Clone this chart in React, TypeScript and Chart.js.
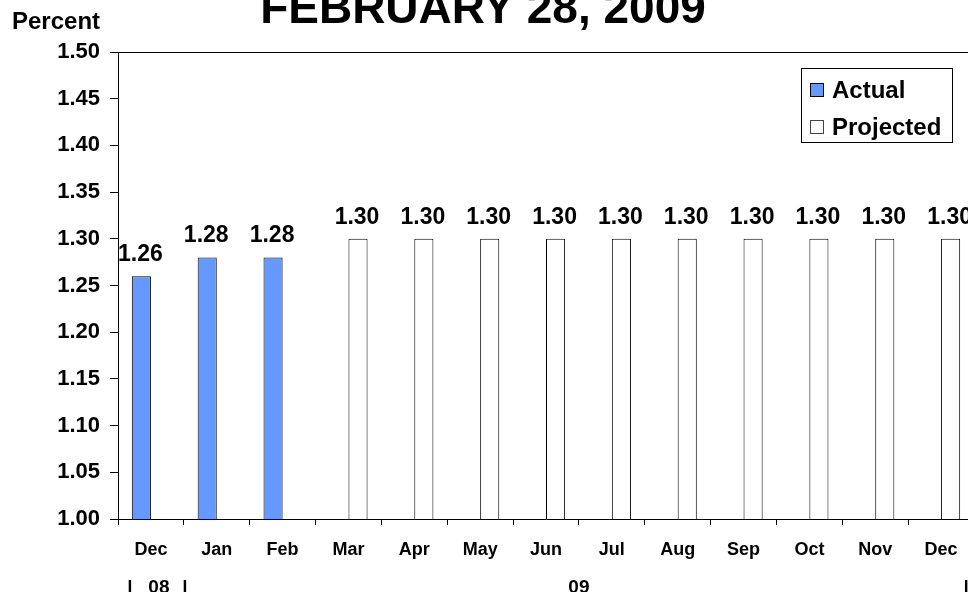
import React, { useEffect, useRef } from "react";
import { Chart, registerables } from "chart.js";

Chart.register(...registerables);

const categories = ["Dec", "Jan", "Feb", "Mar", "Apr", "May", "Jun", "Jul", "Aug", "Sep", "Oct", "Nov", "Dec"];
const actualValues = [1.26, 1.28, 1.28, null, null, null, null, null, null, null, null, null, null];
const projectedValues = [null, null, null, 1.3, 1.3, 1.3, 1.3, 1.3, 1.3, 1.3, 1.3, 1.3, 1.3];
const yearLabels = ["08", "09"];
const titleText = "FEBRUARY 28, 2009";
const yAxisTitle = "Percent";
const legendLabels = ["Actual", "Projected"];

const FONT = '"Liberation Sans", Arial, sans-serif';
const BLUE = "#6699FF";

const overlay = {
  id: "overlay",
  afterDatasetsDraw(chart: any) {
    const ctx = chart.ctx;
    ctx.save();
    ctx.font = `bold 23px ${FONT}`;
    ctx.fillStyle = "#000";
    ctx.textAlign = "center";
    ctx.textBaseline = "alphabetic";
    chart.data.datasets.forEach((ds: any, di: number) => {
      const meta = chart.getDatasetMeta(di);
      meta.data.forEach((bar: any, i: number) => {
        const v = ds.data[i];
        if (v == null) return;
        ctx.fillText(v.toFixed(2), bar.x - 1, bar.y - 15);
      });
    });
    ctx.restore();
  },
  afterDraw(chart: any) {
    const ctx = chart.ctx;
    const area = chart.chartArea;
    const x = chart.scales.x;
    ctx.save();
    // top border of plot area
    ctx.strokeStyle = "#000";
    ctx.lineWidth = 1;
    ctx.beginPath();
    ctx.moveTo(area.left, Math.round(area.top) + 0.5);
    ctx.lineTo(area.right, Math.round(area.top) + 0.5);
    ctx.moveTo(Math.round(area.right) - 0.5, area.top);
    ctx.lineTo(Math.round(area.right) - 0.5, area.bottom);
    ctx.stroke();

    // title
    ctx.fillStyle = "#000";
    ctx.textAlign = "center";
    ctx.textBaseline = "alphabetic";
    ctx.font = `bold 46px ${FONT}`;
    ctx.fillText(titleText, 483, 23);

    // y-axis title
    ctx.font = `bold 24px ${FONT}`;
    ctx.textAlign = "left";
    ctx.fillText(yAxisTitle, 12, 29);

    // year row
    const c0 = x.getPixelForValue(0);
    const c1 = x.getPixelForValue(1);
    const c12 = x.getPixelForValue(12);
    const yy = 593;
    ctx.font = `bold 19px ${FONT}`;
    ctx.textAlign = "center";
    ctx.fillText("|", c0 - 21, yy);
    ctx.fillText(yearLabels[0], c0 + 8, yy);
    ctx.fillText("|", c0 + 34, yy);
    ctx.fillText(yearLabels[1], (c1 + c12) / 2, yy);
    ctx.fillText("|", c12 + 25, yy);

    // legend
    const lx = 801, ly = 68, lw = 151, lh = 74;
    ctx.fillStyle = "#fff";
    ctx.fillRect(lx, ly, lw, lh);
    ctx.strokeStyle = "#000";
    ctx.strokeRect(lx + 0.5, ly + 0.5, lw, lh);
    ctx.fillStyle = BLUE;
    ctx.fillRect(810.5, 83.5, 13, 13);
    ctx.strokeRect(810.5, 83.5, 13, 13);
    ctx.fillStyle = "#fff";
    ctx.fillRect(810.5, 120.5, 13, 13);
    ctx.strokeStyle = "#444";
    ctx.strokeRect(810.5, 120.5, 13, 13);
    ctx.fillStyle = "#000";
    ctx.textAlign = "left";
    ctx.font = `bold 24px ${FONT}`;
    ctx.fillText(legendLabels[0], 832, 98);
    ctx.fillText(legendLabels[1], 832, 135);
    ctx.restore();
  },
};

export default function App() {
  const ref = useRef<HTMLCanvasElement>(null);
  useEffect(() => {
    const chart = new Chart(ref.current!, {
      type: "bar",
      data: {
        labels: categories,
        datasets: [
          {
            label: legendLabels[0],
            data: actualValues,
            backgroundColor: BLUE,
            borderColor: "#000",
            borderWidth: 1,
            categoryPercentage: 0.58,
            barPercentage: 1.0,
          },
          {
            label: legendLabels[1],
            data: projectedValues,
            backgroundColor: "#fff",
            borderColor: "#000",
            borderWidth: 1,
            categoryPercentage: 0.58,
            barPercentage: 1.0,
          },
        ],
      },
      options: {
        responsive: false,
        animation: false,
        layout: { padding: { top: 52, right: 6, left: 0, bottom: 0 } },
        plugins: { legend: { display: false }, tooltip: { enabled: false }, title: { display: false } },
        scales: {
          x: {
            grid: { display: true, drawOnChartArea: false, offset: true, tickLength: 6, color: "#000" },
            border: { display: true, color: "#000" },
            ticks: {
              color: "#000",
              font: { family: FONT, size: 18, weight: "bold" },
              padding: 14,
              maxRotation: 0,
              autoSkip: false,
            },
            afterFit(scale: any) {
              scale.height = 73;
            },
          },
          y: {
            min: 1.0,
            max: 1.5,
            grid: { display: true, drawOnChartArea: false, tickLength: 8, color: "#000" },
            border: { display: true, color: "#000" },
            ticks: {
              stepSize: 0.05,
              color: "#000",
              font: { family: FONT, size: 22, weight: "bold" },
              padding: 10,
              callback: (v: any) => Number(v).toFixed(2),
            },
            afterFit(scale: any) {
              scale.width = 118;
            },
          },
        },
      },
      plugins: [overlay],
    });
    return () => chart.destroy();
  }, []);
  return (
    <div style={{ position: "fixed", left: 0, top: 0, width: 968, height: 592, overflow: "hidden", background: "#fff" }}>
      <canvas ref={ref} width={980} height={592} style={{ display: "block", width: 980, height: 592 }} />
    </div>
  );
}
